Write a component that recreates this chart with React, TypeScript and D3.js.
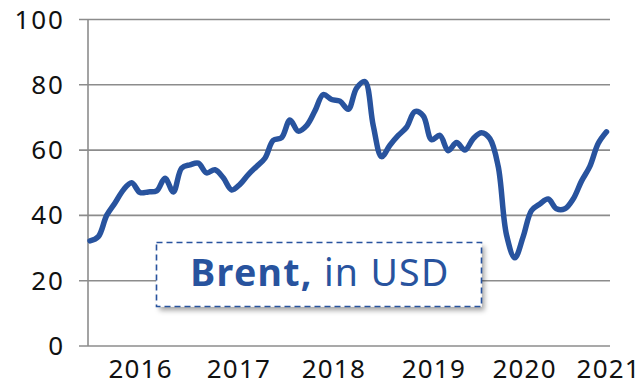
import React from "react";
import * as d3 from "d3";

// Monthly Brent crude average, Jan 2016 – Mar 2021 (USD per barrel)
const brentPrices: number[] = [
  32.2, 33.5, 40.0, 43.8, 47.8, 50.0, 47.0, 47.2, 47.5, 51.4, 47.2, 54.5,
  55.5, 56.0, 53.0, 54.0, 51.5, 47.8, 49.5, 52.5, 55.0, 57.5, 63.0, 63.8,
  69.2, 65.8, 67.5, 72.0, 77.0, 75.5, 75.0, 72.5, 79.0, 81.0, 67.5, 58.0,
  61.5, 64.5, 67.0, 71.8, 70.5, 63.2, 64.5, 59.8, 62.3, 60.0, 63.5, 65.3,
  63.5, 55.0, 34.0, 27.0, 33.5, 41.5, 43.5, 45.0, 42.0, 42.0, 45.0, 50.5,
  55.0, 62.0, 65.6,
];

// Year labels and the month index each one sits under
const yearLabels: string[] = ["2016", "2017", "2018", "2019", "2020", "2021"];
const yearLabelMonth: number[] = [6, 17.8, 29.2, 41.2, 52.1, 62.2];

const yTicks: number[] = [0, 20, 40, 60, 80, 100];

const legendBold = "Brent,";
const legendRest = " in USD";

const W = 643;
const H = 385;
const BLUE = "#28539E";
const GRID = "#8c8c8c";
const FONT = "'Noto Sans', 'Open Sans', sans-serif";

export default function App() {
  const x = d3.scaleLinear().domain([0, brentPrices.length - 1]).range([90, 606.5]);
  const y = d3.scaleLinear().domain([0, 100]).range([346, 19.5]);
  const plotLeft = 88;
  const plotRight = 610;

  const line = d3
    .line<number>()
    .x((_, i) => x(i))
    .y((d) => y(d))
    .curve(d3.curveCatmullRom.alpha(0.5));

  return (
    <svg
      width={W}
      height={H}
      viewBox={`0 0 ${W} ${H}`}
      style={{ position: "absolute", left: 0, top: 0, background: "#fff" }}
    >
      <defs>
        <filter id="legendShadow" x="-10%" y="-20%" width="130%" height="160%">
          <feDropShadow dx="3" dy="4" stdDeviation="2.5" floodColor="#000" floodOpacity="0.35" />
        </filter>
      </defs>

      {/* horizontal gridlines with tick stubs */}
      {yTicks.map((t) => (
        <line
          key={`g${t}`}
          x1={plotLeft - 9}
          x2={plotRight}
          y1={y(t)}
          y2={y(t)}
          stroke={GRID}
          strokeWidth={1.6}
        />
      ))}
      {/* y axis */}
      <line x1={plotLeft} x2={plotLeft} y1={y(100)} y2={y(0)} stroke={GRID} strokeWidth={1.6} />

      {/* y tick labels */}
      {yTicks.map((t) => (
        <text
          key={`yl${t}`}
          x={65}
          y={y(t) + 9}
          textAnchor="end"
          fontFamily={FONT}
          fontSize={26}
          letterSpacing={2}
          fill="#111"
        >
          {t}
        </text>
      ))}

      {/* x labels */}
      {yearLabels.map((lab, i) => (
        <text
          key={lab}
          x={x(yearLabelMonth[i]) + 0.6}
          y={378}
          textAnchor="middle"
          fontFamily={FONT}
          fontSize={26}
          letterSpacing={1.2}
          fill="#111"
        >
          {lab}
        </text>
      ))}

      {/* price line */}
      <path
        d={line(brentPrices) ?? ""}
        fill="none"
        stroke={BLUE}
        strokeWidth={5.5}
        strokeLinejoin="round"
        strokeLinecap="round"
      />

      {/* legend box */}
      <g>
        <rect
          x={156.5}
          y={242.5}
          width={325}
          height={64}
          fill="#fff"
          filter="url(#legendShadow)"
        />
        <rect
          x={156.5}
          y={242.5}
          width={325}
          height={64}
          fill="#fff"
          stroke={BLUE}
          strokeWidth={1.6}
          strokeDasharray="6 4"
        />
        <text
          x={320}
          y={286}
          textAnchor="middle"
          fontFamily={FONT}
          fontSize={37.5}
          letterSpacing={1.3}
          fill={BLUE}
        >
          <tspan fontWeight="bold">{legendBold}</tspan>
          <tspan>{legendRest}</tspan>
        </text>
      </g>
    </svg>
  );
}
